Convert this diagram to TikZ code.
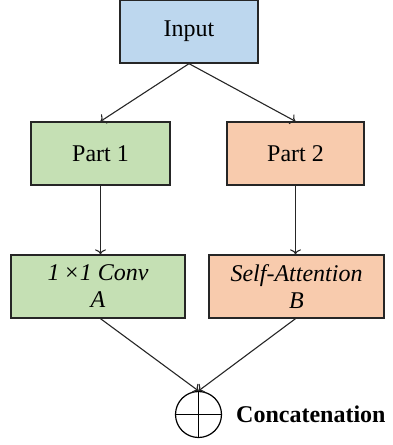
\documentclass[tikz,border=0pt]{standalone}
\usepackage{fontspec}
\setmainfont{LiberationSerif}[Extension=.ttf, UprightFont=*-Regular, BoldFont=*-Bold, ItalicFont=*-Italic, BoldItalicFont=*-BoldItalic]
\usetikzlibrary{arrows.meta}
\definecolor{inblue}{HTML}{BDD7EE}
\definecolor{pgreen}{HTML}{C5E0B4}
\definecolor{porange}{HTML}{F8CBAD}
\begin{document}
\begin{tikzpicture}[x=1pt,y=-1pt,
  box/.style={draw=black!85, line width=1.3pt, inner sep=0pt, font=\fontsize{24}{27}\selectfont, align=center},
  conn/.style={draw=black!85, line width=1.1pt, -{To[length=5pt,width=11pt]}}]
\useasboundingbox (0,0) rectangle (393,445);
\node[box, fill=inblue, minimum width=138pt, minimum height=63pt] (in) at (189,31.5) {Input};
\node[box, fill=pgreen, minimum width=139pt, minimum height=63pt] (p1) at (100.5,153.5) {Part 1};
\node[box, fill=porange, minimum width=137pt, minimum height=63pt] (p2) at (295.5,153.5) {Part 2};
\node[box, fill=pgreen, minimum width=174pt, minimum height=63pt] (a) at (98,286.5) {\itshape 1\,×1 Conv\\\itshape A};
\node[box, fill=porange, minimum width=175pt, minimum height=63pt] (b) at (296.5,286.5) {\itshape Self-Attention\\\itshape B};
\node[draw=black, line width=1.2pt, circle, minimum size=46pt, inner sep=0pt] (c) at (198.5,414.5) {};
\draw[line width=1.2pt] (c.north) -- (c.south) (c.west) -- (c.east);
\node[anchor=west, font=\fontsize{24}{27}\selectfont\bfseries, inner sep=0pt] (lbl) at (236,414) {Concatenation};
\draw[conn] (in.south) -- (p1.north);
\draw[conn] (in.south) -- (p2.north);
\draw[conn] (p1.south) -- (p1.south |- a.north);
\draw[conn] (p2.south) -- (p2.south |- b.north);
\draw[conn] (a.south -| p1.south) -- (c.north);
\draw[conn] (b.south -| p2.south) -- (c.north);
\end{tikzpicture}
\end{document}
